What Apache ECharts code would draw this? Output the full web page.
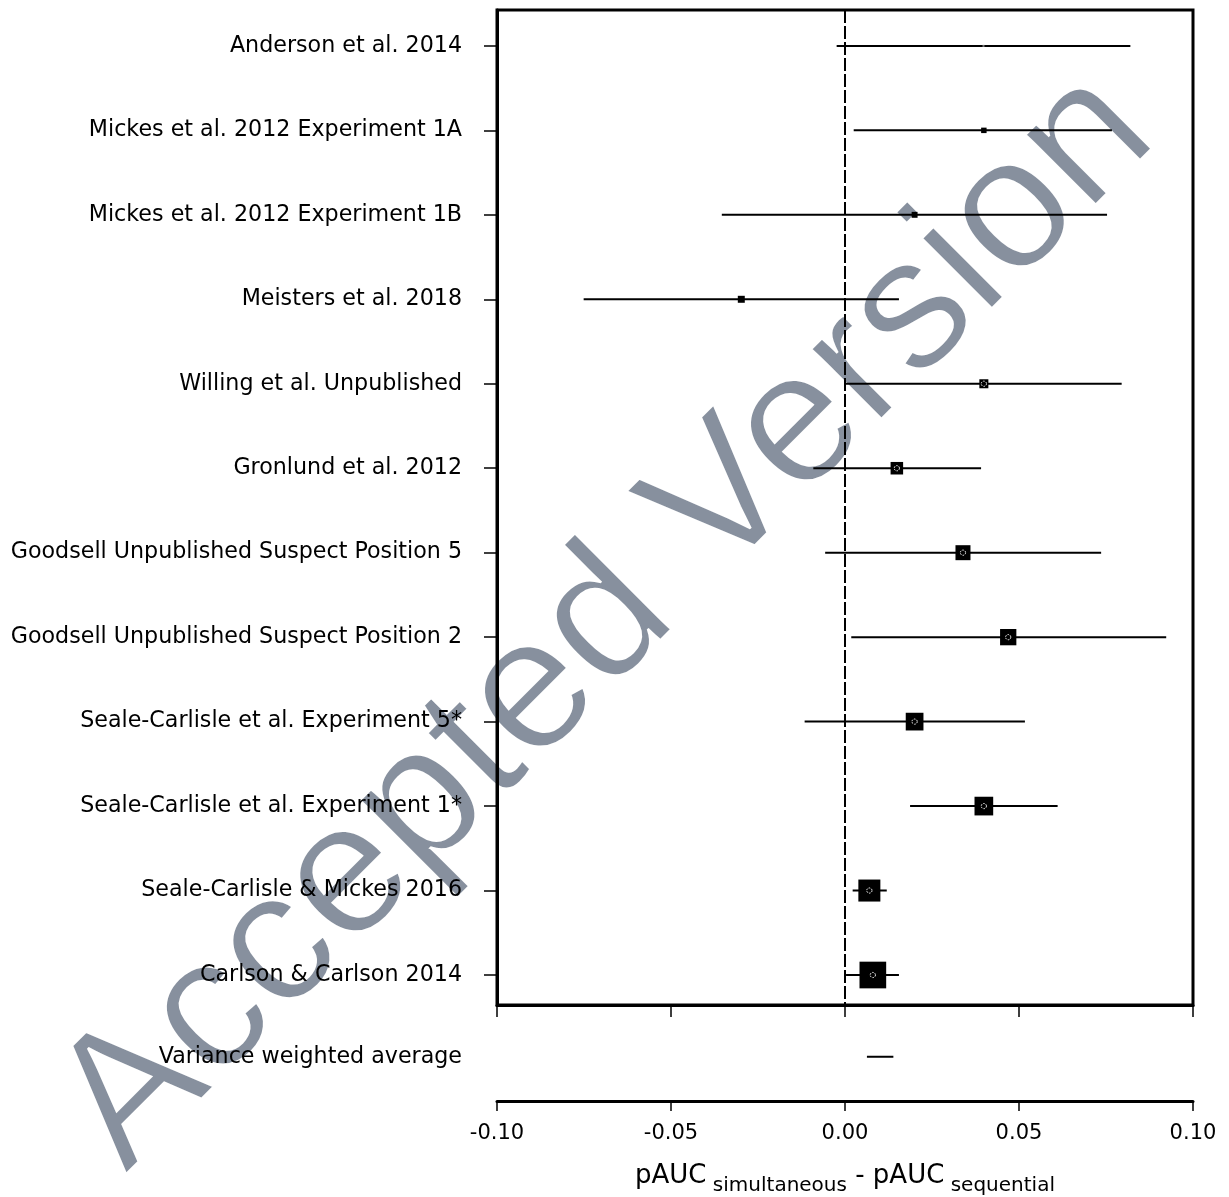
<!DOCTYPE html>
<html>
<head>
<meta charset="utf-8">
<script src="https://cdn.jsdelivr.net/npm/echarts@6/dist/echarts.min.js"></script>
<style>
  html, body { margin: 0; padding: 0; background: #fff; }
  #chart { width: 1229px; height: 1197px; }
</style>
</head>
<body>
<div id="chart"></div>
<script>
// ---- data ----
const studies = [
  'Anderson et al. 2014',
  'Mickes et al. 2012 Experiment 1A',
  'Mickes et al. 2012 Experiment 1B',
  'Meisters et al. 2018',
  'Willing et al. Unpublished',
  'Gronlund et al. 2012',
  'Goodsell Unpublished Suspect Position 5',
  'Goodsell Unpublished Suspect Position 2',
  'Seale-Carlisle et al. Experiment 5*',
  'Seale-Carlisle et al. Experiment 1*',
  'Seale-Carlisle & Mickes 2016',
  'Carlson & Carlson 2014'
];
const estimate = [0.0398, 0.0399, 0.0200, -0.0298, 0.0399, 0.0149, 0.0339, 0.0469, 0.0200, 0.0399, 0.0070, 0.0080];
const ciLower  = [-0.0024, 0.0025, -0.0354, -0.0751, 0.0000, -0.0091, -0.0057, 0.0018, -0.0116, 0.0187, 0.0022, 0.0003];
const ciUpper  = [0.0820, 0.0767, 0.0753, 0.0155, 0.0795, 0.0391, 0.0736, 0.0923, 0.0517, 0.0611, 0.0120, 0.0155];
const weights  = [0.15, 1.1, 1.3, 1.8, 3.0, 5.8, 8.3, 9.8, 11.6, 12.9, 17.9, 26.3]; // % weight (box area)
const avgLabel = 'Variance weighted average';
const avgLower = [0.0063];
const avgUpper = [0.0139];
const xTicks = [-0.10, -0.05, 0.00, 0.05, 0.10];

// ---- chart ----
const chart = echarts.init(document.getElementById('chart'), null, { renderer: 'canvas' });
const FONT = "'DejaVu Sans', sans-serif";
const AREA_SCALE = 27.07; // px^2 per weight percent
const rowIdx = studies.map((_, i) => i + 1);

const studyData = studies.map((s, i) => [ciLower[i], ciUpper[i], estimate[i], weights[i], i + 1]);
const avgData = avgLower.map((lo, i) => [lo, avgUpper[i], 13]);

function renderStudy(params, api) {
  const y = api.value(4);
  const p1 = api.coord([api.value(0), y]);
  const p2 = api.coord([api.value(1), y]);
  const c = api.coord([api.value(2), y]);
  const s = Math.sqrt(api.value(3) * AREA_SCALE);
  const children = [
    { type: 'line', shape: { x1: p1[0], y1: p1[1], x2: p2[0], y2: p2[1] },
      style: { stroke: '#000', lineWidth: 2 } },
    { type: 'rect', shape: { x: c[0] - s / 2, y: c[1] - s / 2, width: s, height: s },
      style: { fill: s < 3 ? '#777' : '#000' } }
  ];
  if (s > 8) {
    children.push({ type: 'circle', shape: { cx: c[0], cy: c[1], r: 2.6 },
      style: { fill: null, stroke: '#fff', lineWidth: 1, lineDash: [1.6, 1.2] } });
  }
  return { type: 'group', children };
}
function renderAvg(params, api) {
  const y = api.value(2);
  const p1 = api.coord([api.value(0), y]);
  const p2 = api.coord([api.value(1), y]);
  return { type: 'line', shape: { x1: p1[0], y1: p1[1], x2: p2[0], y2: p2[1] },
    style: { stroke: '#000', lineWidth: 2 } };
}
function renderZero(params, api) {
  const top = api.coord([0, 0.575]);
  const bot = api.coord([0, 12.355]);
  return { type: 'line', shape: { x1: top[0], y1: top[1], x2: bot[0], y2: bot[1] },
    style: { stroke: '#000', lineWidth: 2, lineDash: [13, 3] } };
}

const WM = 188;
function watermark(z, fill, stroke, lw) {
  return {
    type: 'text',
    x: 133, y: 1182,
    rotation: Math.PI / 4,
    z: z,
    silent: true,
    style: {
      text: 'Accepted Version',
      x: 0, y: -0.33 * WM,
      fontSize: WM,
      fontFamily: "'Liberation Sans', Arial, sans-serif",
      fontWeight: 'normal',
      fill: fill,
      stroke: stroke,
      lineWidth: lw,
      lineJoin: 'round',
      align: 'left',
      verticalAlign: 'middle'
    }
  };
}

const option = {
  backgroundColor: '#fff',
  animation: false,
  graphic: [
    watermark(-10, '#87909e', null, 0),
    watermark(-9, 'rgba(0,0,0,0)', '#ffffff', 2.5)
  ],
  grid: [
    { left: 497, right: 36, top: 10, height: 995, show: true, borderColor: '#000', borderWidth: 3, backgroundColor: 'transparent' },
    { left: 497, right: 36, top: 1005, height: 97, show: false }
  ],
  xAxis: [
    {
      gridIndex: 0, type: 'value', min: -0.1, max: 0.1, interval: 0.05,
      axisLine: { show: true, onZero: false, lineStyle: { color: '#000', width: 3 } },
      axisTick: { show: true, inside: false, length: 12, lineStyle: { color: '#000', width: 1.5 } },
      axisLabel: { show: false },
      splitLine: { show: false }
    },
    {
      gridIndex: 1, type: 'value', min: -0.1, max: 0.1, interval: 0.05,
      axisLine: { show: true, onZero: false, lineStyle: { color: '#000', width: 3 } },
      axisTick: { show: true, inside: false, length: 10, lineStyle: { color: '#000', width: 1.5 } },
      axisLabel: {
        show: true, margin: 22, color: '#000', fontSize: 21, fontFamily: FONT,
        customValues: xTicks,
        formatter: v => v.toFixed(2)
      },
      splitLine: { show: false },
      name: '{m|pAUC}{s| simultaneous}{m| - pAUC}{s| sequential}',
      nameLocation: 'middle',
      nameGap: 62,
      nameTextStyle: {
        color: '#000', fontFamily: FONT,
        rich: {
          m: { fontSize: 26, lineHeight: 26, fontFamily: FONT, color: '#000' },
          s: { fontSize: 20, lineHeight: 20, padding: [20, 0, 0, 0], fontFamily: FONT, color: '#000' }
        }
      }
    }
  ],
  yAxis: [
    {
      gridIndex: 0, type: 'value', inverse: true, min: 0.575, max: 12.355,
      axisLine: { show: true, onZero: false, lineStyle: { color: '#000', width: 3 } },
      axisTick: { show: true, inside: false, length: 13, customValues: rowIdx, lineStyle: { color: '#000', width: 1.5 } },
      axisLabel: {
        show: true, margin: 35, color: '#000', fontSize: 22.2, fontFamily: FONT,
        customValues: rowIdx,
        formatter: v => studies[Math.round(v) - 1] || ''
      },
      splitLine: { show: false }
    },
    {
      gridIndex: 1, type: 'value', inverse: true, min: 12.38, max: 13.53,
      axisLine: { show: false, onZero: false },
      axisTick: { show: false },
      axisLabel: {
        show: true, margin: 35, color: '#000', fontSize: 22.2, fontFamily: FONT,
        customValues: [13],
        formatter: () => avgLabel
      },
      splitLine: { show: false }
    }
  ],
  series: [
    {
      type: 'custom', xAxisIndex: 0, yAxisIndex: 0, z: 4,
      renderItem: renderZero, data: [[0]], silent: true
    },
    {
      type: 'custom', xAxisIndex: 0, yAxisIndex: 0, z: 5,
      renderItem: renderStudy, data: studyData, silent: true
    },
    {
      type: 'custom', xAxisIndex: 1, yAxisIndex: 1, z: 5,
      renderItem: renderAvg, data: avgData, silent: true
    }
  ]
};
chart.setOption(option);
</script>
</body>
</html>
